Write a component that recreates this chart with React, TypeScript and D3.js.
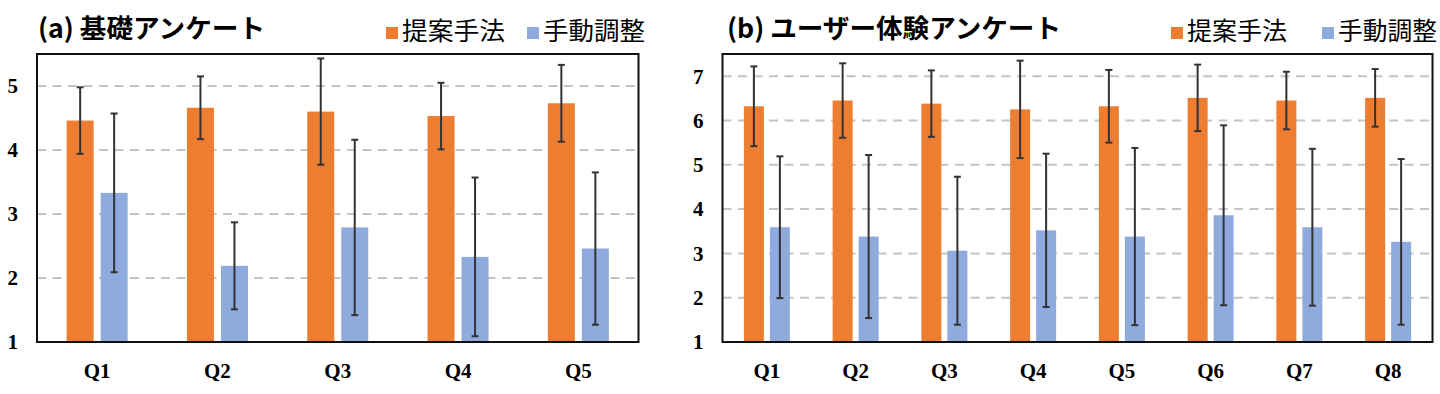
import React from "react";
import * as d3 from "d3";

// (a) 基礎アンケート
const basicQuestions = ["Q1", "Q2", "Q3", "Q4", "Q5"];
const basicProposed = [4.46, 4.66, 4.6, 4.53, 4.73];
const basicProposedSd = [0.52, 0.49, 0.83, 0.52, 0.6];
const basicManual = [3.33, 2.19, 2.79, 2.33, 2.46];
const basicManualSd = [1.24, 0.68, 1.37, 1.24, 1.19];
const basicTicks = [1, 2, 3, 4, 5];

// (b) ユーザー体験アンケート
const uxQuestions = ["Q1", "Q2", "Q3", "Q4", "Q5", "Q6", "Q7", "Q8"];
const uxProposed = [6.32, 6.45, 6.38, 6.25, 6.32, 6.51, 6.45, 6.51];
const uxProposedSd = [0.9, 0.84, 0.75, 1.1, 0.82, 0.75, 0.65, 0.65];
const uxManual = [3.59, 3.38, 3.06, 3.52, 3.38, 3.86, 3.59, 3.26];
const uxManualSd = [1.6, 1.84, 1.67, 1.73, 2.0, 2.03, 1.77, 1.87];
const uxTicks = [1, 2, 3, 4, 5, 6, 7];

const seriesNames = ["提案手法", "手動調整"];
const colors = ["#ED7D31", "#8FAADC"];

const serif = "'Liberation Serif', 'Times New Roman', serif";
const jp = "'Noto Sans CJK JP', 'Noto Sans', sans-serif";

function Panel({ title, titleW, left, right, top, bottom, questions, proposed, proposedSd, manual, manualSd, ticks, yMax, barW, gap, legend }) {
  const x = d3.scaleBand().domain(questions).range([left, right]).padding(0);
  const y = d3.scaleLinear().domain([1, yMax]).range([bottom, top]);
  const series = [
    { vals: proposed, sd: proposedSd, off: -gap / 2 - barW },
    { vals: manual, sd: manualSd, off: gap / 2 },
  ];
  return (
    <g>
      <text x={title.x} y={38} fontFamily={jp} fontWeight="bold" fontSize={26}
        textLength={titleW} lengthAdjust="spacingAndGlyphs">{title.text}</text>
      {legend.map((l, i) => (
        <g key={i}>
          <rect x={l.x} y={27} width={12} height={12} fill={colors[i]} />
          <text x={l.x + 16} y={40} fontFamily={jp} fontSize={25}
            textLength={l.w} lengthAdjust="spacingAndGlyphs">{seriesNames[i]}</text>
        </g>
      ))}
      {ticks.filter(t => t > 1).map(t => (
        <line key={t} x1={left} x2={right} y1={y(t)} y2={y(t)}
          stroke="#c4c4c4" strokeWidth={2} strokeDasharray="9 6.5" />
      ))}
      {series.map((s, si) => questions.map((q, i) => {
        const cx = x(q)! + x.bandwidth() / 2 + s.off;
        return (
          <rect key={si + q} x={cx} width={barW} y={y(s.vals[i])}
            height={bottom - y(s.vals[i])} fill={colors[si]} />
        );
      }))}
      {series.map((s, si) => questions.map((q, i) => {
        const cx = x(q)! + x.bandwidth() / 2 + s.off + barW / 2;
        const hi = y(s.vals[i] + s.sd[i]);
        const lo = y(s.vals[i] - s.sd[i]);
        return (
          <g key={"e" + si + q} stroke="#333" strokeWidth={2}>
            <line x1={cx} x2={cx} y1={hi} y2={lo} />
            <line x1={cx - 3.5} x2={cx + 3.5} y1={hi} y2={hi} />
            <line x1={cx - 3.5} x2={cx + 3.5} y1={lo} y2={lo} />
          </g>
        );
      }))}
      <rect x={left} y={top} width={right - left} height={bottom - top}
        fill="none" stroke="#111" strokeWidth={2} />
      {ticks.map(t => (
        <text key={t} x={left - 19} y={y(t)} dy="0.35em" textAnchor="end"
          fontFamily={serif} fontWeight="bold" fontSize={21}>{t}</text>
      ))}
      {questions.map(q => (
        <text key={q} x={x(q)! + x.bandwidth() / 2} y={bottom + 36} textAnchor="middle"
          fontFamily={serif} fontWeight="bold" fontSize={21}>{q}</text>
      ))}
    </g>
  );
}

export default function App() {
  return (
    <svg width={1440} height={394} style={{ position: "absolute", left: 0, top: 0, background: "#fff" }}>
      <rect width={1440} height={394} fill="#fff" />
      <Panel title={{ text: "(a) 基礎アンケート", x: 38 }} titleW={227}
        left={37} right={638.5} top={54} bottom={342}
        questions={basicQuestions} proposed={basicProposed} proposedSd={basicProposedSd}
        manual={basicManual} manualSd={basicManualSd} ticks={basicTicks} yMax={5.5}
        barW={27} gap={7}
        legend={[{ x: 386, w: 103 }, { x: 527, w: 102 }]} />
      <Panel title={{ text: "(b) ユーザー体験アンケート", x: 727 }} titleW={334}
        left={722.5} right={1432.5} top={54} bottom={342}
        questions={uxQuestions} proposed={uxProposed} proposedSd={uxProposedSd}
        manual={uxManual} manualSd={uxManualSd} ticks={uxTicks} yMax={7.5}
        barW={20} gap={6}
        legend={[{ x: 1171, w: 100 }, { x: 1322, w: 99 }]} />
    </svg>
  );
}
